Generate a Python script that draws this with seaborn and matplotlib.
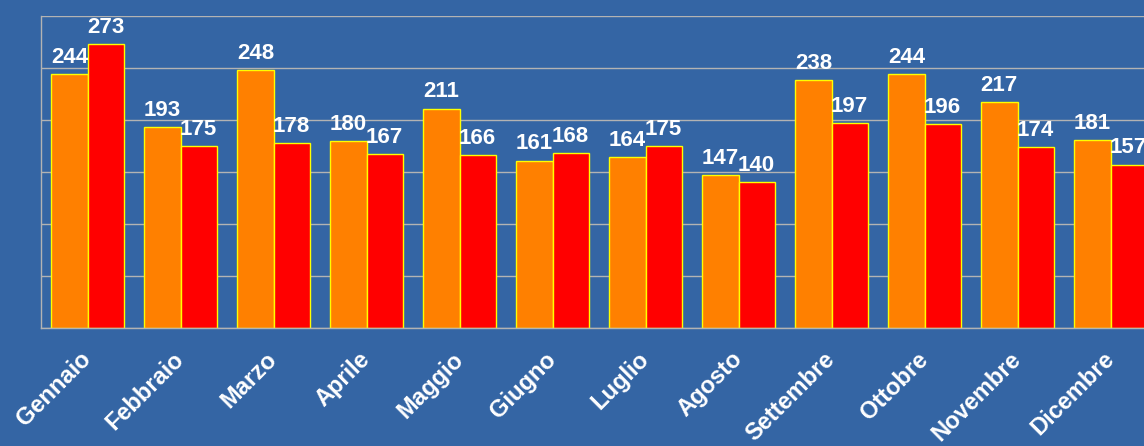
import numpy as np
import pandas as pd
import matplotlib
matplotlib.use("Agg")
import matplotlib.pyplot as plt
import seaborn as sns

mesi = ["Gennaio", "Febbraio", "Marzo", "Aprile", "Maggio", "Giugno",
        "Luglio", "Agosto", "Settembre", "Ottobre", "Novembre", "Dicembre"]
serie_1 = [244, 193, 248, 180, 211, 161, 164, 147, 238, 244, 217, 181]
serie_2 = [273, 175, 178, 167, 166, 168, 175, 140, 197, 196, 174, 157]
nomi_serie = ["Serie 1", "Serie 2"]
colori = ["#ff8000", "#ff0000"]

bg = "#3465a4"
grid_col = "#b3b3b3"

sns.set_style("white")
plt.rcParams["font.family"] = ["Liberation Sans", "DejaVu Sans"]

df = pd.DataFrame({
    "mese": mesi * 2,
    "valore": serie_1 + serie_2,
    "serie": [nomi_serie[0]] * len(mesi) + [nomi_serie[1]] * len(mesi),
})

fig = plt.figure(figsize=(11.44, 4.46), dpi=100)
fig.patch.set_facecolor(bg)
ax = fig.add_axes([41 / 1144, 118 / 446, 1116 / 1144, 312 / 446])
ax.set_facecolor(bg)

sns.barplot(data=df, x="mese", y="valore", hue="serie", order=mesi,
            hue_order=nomi_serie, palette=colori, width=0.78,
            edgecolor="#ffff00", linewidth=1, saturation=1, ax=ax)

ax.legend_.remove()
for c in ax.containers:
    ax.bar_label(c, padding=4.5, color="white", fontsize=16, fontweight="bold")

ax.set_ylim(0, 300)
ax.set_xlim(-0.5, 11.5)
ax.set_yticks(np.arange(0, 301, 50))
ax.yaxis.grid(True, color=grid_col, linewidth=1)
ax.set_axisbelow(True)
ax.tick_params(axis="y", left=False, labelleft=False)

ax.set_xticks(np.arange(-0.5, 12, 1), minor=True)
ax.tick_params(axis="x", which="minor", length=6.5, color=grid_col, width=1)
ax.tick_params(axis="x", which="major", length=0, pad=20)
plt.setp(ax.get_xticklabels(), rotation=45, ha="right", va="center",
         rotation_mode="anchor", color="white", fontsize=17, fontweight="bold")

ax.set_xlabel("")
ax.set_ylabel("")
for s in ["top", "right"]:
    ax.spines[s].set_visible(False)
for s in ["left", "bottom"]:
    ax.spines[s].set_color(grid_col)
    ax.spines[s].set_linewidth(1)

fig.savefig("out.png", dpi=100, facecolor=bg)
